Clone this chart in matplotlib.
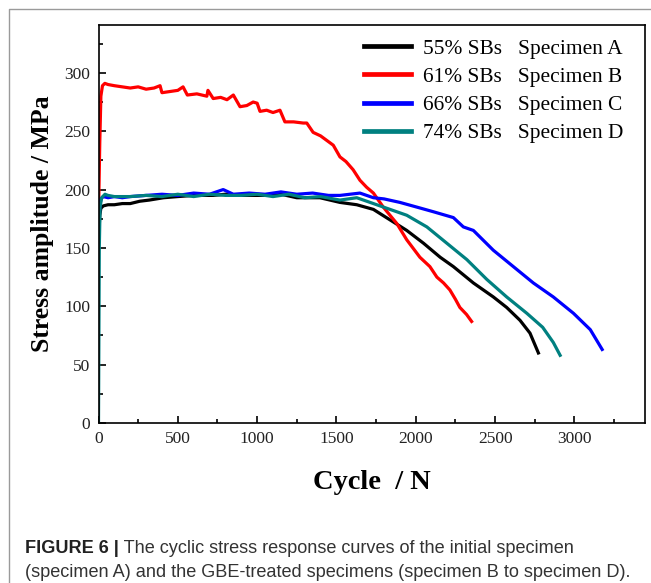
import matplotlib
matplotlib.use("Agg")
import matplotlib.pyplot as plt
from matplotlib.lines import Line2D

# ---- data ----
cycles_a = [0, 8, 15, 30, 60, 100, 150, 200, 260, 320, 410, 500, 600, 723, 800,
            900, 1040, 1150, 1250, 1396, 1522, 1628, 1733, 1838, 1943, 2049, 2154,
            2237, 2363, 2489, 2573, 2657, 2720, 2773]
stress_a = [155, 178, 184, 186, 187, 187, 188, 188, 190, 191, 193, 194, 195, 195, 196,
            195, 195, 196, 193, 193, 189, 187, 183, 174, 165, 154, 142,
            134, 120, 108, 99, 88, 77, 60]

cycles_b = [0, 8, 15, 25, 40, 60, 100, 150, 200, 250, 300, 350, 388, 400, 450, 500,
            533, 560, 620, 683, 690, 723, 770, 810, 850, 892, 935, 975, 1000, 1018,
            1060, 1100, 1144, 1175, 1230, 1290, 1313, 1353, 1400, 1440, 1480, 1522,
            1560, 1605, 1648, 1690, 1733, 1795, 1880, 1943, 2026, 2089, 2133, 2175,
            2215, 2250, 2278, 2320, 2352]
stress_b = [178, 240, 280, 289, 291, 290, 289, 288, 287, 288, 286, 287, 289, 283, 284, 285,
            288, 281, 282, 280, 285, 278, 279, 277, 281, 271, 272, 275, 274, 267,
            268, 266, 268, 258, 258, 257, 257, 249, 246, 242, 238, 228,
            224, 217, 208, 202, 197, 185, 171, 157, 142, 134, 125, 120,
            114, 106, 99, 93, 87]

cycles_c = [0, 8, 15, 30, 60, 100, 150, 200, 300, 400, 500, 600, 700, 786, 850,
            950, 1050, 1150, 1250, 1350, 1450, 1522, 1648, 1733, 1800, 1900, 2006,
            2111, 2237, 2300, 2363, 2489, 2615, 2741, 2867, 2994, 3100, 3175]
stress_c = [165, 185, 192, 194, 193, 194, 193, 194, 195, 196, 195, 197, 196, 200, 196,
            197, 196, 198, 196, 197, 195, 195, 197, 193, 192, 189, 185,
            181, 176, 168, 165, 148, 134, 120, 108, 94, 80, 63]

cycles_d = [0, 5, 10, 20, 41, 60, 100, 200, 300, 400, 500, 600, 700, 800, 900,
            1000, 1100, 1200, 1300, 1400, 1522, 1628, 1733, 1817, 1943, 2070, 2196,
            2322, 2448, 2573, 2700, 2800, 2867, 2910]
stress_d = [0, 150, 185, 193, 196, 195, 194, 194, 195, 194, 196, 194, 196, 195, 195,
            196, 194, 196, 193, 194, 191, 193, 188, 184, 178, 168, 154,
            140, 123, 108, 94, 82, 69, 58]

labels = ["55% SBs   Specimen A", "61% SBs   Specimen B",
          "66% SBs   Specimen C", "74% SBs   Specimen D"]
colors = ["#000000", "#ff0000", "#0000ff", "#008080"]

x_ticks = [0, 500, 1000, 1500, 2000, 2500, 3000]
y_ticks = [0, 50, 100, 150, 200, 250, 300]

caption_bold = "FIGURE 6 |"
caption_rest = " The cyclic stress response curves of the initial specimen"
caption_line2 = "(specimen A) and the GBE-treated specimens (specimen B to specimen D)."

serif = ["Liberation Serif", "DejaVu Serif"]

fig = plt.figure(figsize=(6.51, 5.83), dpi=100)
ax = fig.add_axes([98.5 / 651, 1 - 423 / 583, (645 - 98.5) / 651, (423 - 25) / 583])

series = [(cycles_a, stress_a), (cycles_b, stress_b), (cycles_c, stress_c), (cycles_d, stress_d)]
for (xs, ys), c in zip(series, colors):
    ax.plot(xs, ys, color=c, lw=2.3, solid_joinstyle="round")

ax.set_xlim(0, 3445)
ax.set_ylim(0, 341)
ax.set_xticks(x_ticks)
ax.set_yticks(y_ticks)
ax.set_xticks([250, 750, 1250, 1750, 2250, 2750, 3250], minor=True)
ax.set_yticks([25, 75, 125, 175, 225, 275, 325], minor=True)
ax.tick_params(which="both", direction="in", width=1.2)
ax.tick_params(which="major", length=5, labelsize=12.5, pad=6)
ax.tick_params(which="minor", length=3)
for lab in ax.get_xticklabels() + ax.get_yticklabels():
    lab.set_family(serif)
    lab.set_color("#222222")
for sp in ax.spines.values():
    sp.set_linewidth(1.2)

ax.set_xlabel("Cycle  / N", fontsize=20.5, fontweight="bold", family=serif, labelpad=16)
ax.set_ylabel("Stress amplitude / MPa", fontsize=18.5, fontweight="bold", family=serif, labelpad=7)

handles = [Line2D([], [], color=c, lw=3.4) for c in colors]
leg = ax.legend(handles, labels, loc="upper right", frameon=False,
                prop={"family": serif, "size": 15.4}, handlelength=2.2,
                handletextpad=0.55, labelspacing=0.38, borderaxespad=0.25,
                bbox_to_anchor=(1 - 8 / 546, 1.0))

# outer frame of the figure panel (top and left edges)
fig.add_artist(Line2D([9 / 651, 9 / 651, 1], [0, 1 - 9 / 583, 1 - 9 / 583],
                      transform=fig.transFigure, color="#9a9a9a", lw=1.0))

# caption
t1 = fig.text(25 / 651, 1 - 553 / 583, caption_bold, fontsize=13.1, fontweight="bold",
              family="Liberation Sans", color="#222222", va="baseline")
fig.canvas.draw()
bb = t1.get_window_extent(fig.canvas.get_renderer())
fig.text(bb.x1 / fig.bbox.width, 1 - 553 / 583, caption_rest, fontsize=13.1,
         family="Liberation Sans", color="#333333", va="baseline")
fig.text(25 / 651, 1 - 577 / 583, caption_line2, fontsize=13.1,
         family="Liberation Sans", color="#333333", va="baseline")

fig.savefig("out.png", dpi=100)
